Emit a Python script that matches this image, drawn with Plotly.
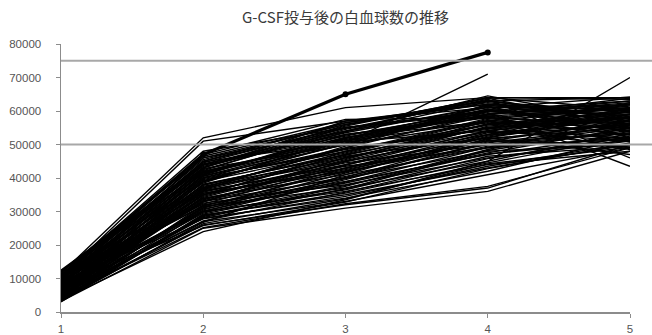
import plotly.graph_objects as go

days = [1, 2, 3, 4, 5]
title_text = "G-CSF投与後の白血球数の推移"
y_ticks = [0, 10000, 20000, 30000, 40000, 50000, 60000, 70000, 80000]
ref_levels = [75000, 50000]

# White blood cell counts per patient (one row per patient)
patients = [
    [11500, 52000, 61000, 64000, 64000],
    [10500, 51000, 57000, 62000, 60000],
    [12000, 46000, 56000, 63000, 58000],
    [9500, 45000, 55000, 60000, 62000],
    [8000, 44000, 54000, 64500, 57000],
    [11000, 43000, 57000, 61000, 55000],
    [7000, 42000, 52000, 59000, 63000],
    [9000, 41500, 50500, 71000, None],
    [6500, 41000, 53000, 58000, 61000],
    [10000, 40000, 51000, 57000, 53000],
    [8500, 39500, 49000, 62000, 59000],
    [5500, 39000, 48000, 56000, 60000],
    [7500, 38000, 47000, 55000, 49000],
    [9800, 38500, 52000, 60000, 56000],
    [6000, 37500, 46000, 54000, 62500],
    [4500, 37000, 45000, 53000, 58000],
    [8800, 36000, 44000, 52000, 47000],
    [7200, 36500, 49500, 58500, 54000],
    [5000, 35000, 43000, 51000, 57000],
    [11200, 35500, 42000, 50000, 55000],
    [6800, 34000, 41000, 49000, 52000],
    [4000, 34500, 45500, 57000, 61000],
    [9200, 33000, 40000, 48000, 50000],
    [5800, 33500, 44000, 55500, 59000],
    [3500, 32000, 39000, 47000, 53000],
    [8200, 32500, 38000, 46000, 51000],
    [6200, 31000, 43000, 53500, 56000],
    [4200, 31500, 37000, 45000, 54000],
    [7800, 30000, 36000, 44000, 48000],
    [5200, 30500, 41500, 52500, 60000],
    [3000, 29000, 35000, 43000, 50000],
    [6600, 29500, 39500, 50500, 55500],
    [4800, 28000, 34000, 42000, 52000],
    [3800, 28500, 37500, 48500, 57500],
    [5500, 27000, 33000, 41000, 49000],
    [4400, 26000, 32000, 37000, 50000],
    [3200, 25000, 31000, 36000, 48000],
    [3600, 24000, 33500, 45000, 70000],
    [7000, 46500, 56500, 63000, 64000],
    [10800, 44500, 55500, 64000, 63500],
    [12500, 43500, 53500, 61500, 52000],
    [9600, 42500, 54500, 63500, 46000],
    [8300, 41800, 51500, 59500, 43500],
    [6900, 40500, 50000, 56500, 48500],
    [5900, 39800, 48500, 54500, 62000],
    [10300, 45500, 56000, 62500, 57500],
    [7400, 37800, 47500, 57500, 61500],
    [8700, 36800, 46500, 52000, 58500],
    [4600, 35800, 44500, 50000, 53500],
    [11800, 43800, 52500, 60500, 54500],
    [6300, 33800, 42500, 51500, 56500],
    [9300, 31800, 40500, 49500, 51500],
    [5300, 30800, 38500, 47500, 55000],
    [7600, 29800, 36500, 46500, 49500],
    [4100, 28800, 35500, 44500, 52500],
    [8900, 27800, 34500, 43500, 50500],
    [6700, 40800, 53800, 62800, 59500],
    [5700, 38800, 51800, 61200, 60500],
    [9900, 42200, 55200, 59000, 62500],
    [7100, 34800, 48000, 56000, 58000],
    [3300, 26800, 41000, 53000, 61000],
    [10200, 47000, 57500, 58000, 56000],
    [8100, 44800, 50800, 54000, 51000],
    [6400, 32800, 46200, 55000, 57000],
    [4900, 36200, 43500, 49000, 54200],
    [11000, 48000, 55000, 60000, 59000],
    [9400, 46000, 54000, 64000, 60500],
    [8600, 45000, 56500, 62000, 58500],
    [7900, 43000, 55800, 63800, 55500],
    [12200, 44200, 53000, 58500, 61000],
    [6100, 42800, 49800, 61800, 56800],
    [10600, 41200, 52800, 60200, 63000],
    [5400, 40200, 47800, 57800, 52800],
    [8400, 39200, 50200, 59800, 57800],
    [4300, 38200, 46800, 55800, 59800],
    [9700, 37200, 48800, 54800, 51800],
    [6500, 36400, 45800, 56200, 62200],
    [3900, 35400, 42800, 52800, 55800],
    [7300, 34200, 44800, 53800, 60800],
    [5100, 33200, 41800, 51200, 49800],
    [10900, 32200, 43800, 54200, 58200],
    [4700, 31200, 39800, 50800, 53200],
    [8000, 30200, 38800, 49200, 56200],
    [3400, 29200, 37800, 47200, 51200],
    [6000, 28200, 36800, 48200, 54800],
    [5600, 27200, 35800, 45800, 52200],
    [3700, 26400, 33800, 44200, 49200],
    [7700, 25800, 32800, 42800, 50200],
    [4500, 25200, 32300, 37500, 49000],
    [9100, 40600, 51200, 58800, 63800],
    [11400, 43200, 54000, 61000, 64200],
    [6800, 39000, 50400, 60600, 53800],
    [5000, 37000, 49000, 59200, 61800],
    [8200, 35000, 47200, 57200, 54800],
    [7000, 33000, 45200, 55200, 57800],
    [9500, 31600, 42200, 52200, 59200],
    [4000, 30000, 40200, 51800, 55200],
    [6200, 41600, 52200, 56800, 50800],
    [10100, 44000, 54800, 63200, 56200],
    [12000, 42000, 51000, 59800, 60200],
]

highlight = [10500, 47000, 65000, 77500, None]

fig = go.Figure()
for row in patients:
    fig.add_trace(go.Scatter(
        x=days, y=row, mode="lines",
        line=dict(color="black", width=1.4),
        showlegend=False, hoverinfo="skip",
    ))

fig.add_trace(go.Scatter(
    x=days, y=highlight, mode="lines+markers",
    line=dict(color="black", width=3.2),
    marker=dict(color="black", size=6),
    showlegend=False, hoverinfo="skip",
))

for lv in ref_levels:
    fig.add_shape(type="line", xref="paper", yref="y",
                  x0=0, x1=1.06, y0=lv, y1=lv,
                  line=dict(color="#a8a8a8", width=2), layer="above")

fig.update_layout(
    width=652, height=335,
    margin=dict(l=61, r=22, t=44, b=23, autoexpand=False),
    paper_bgcolor="white", plot_bgcolor="white",
    hovermode=False,
    title=dict(text=title_text, x=0.5, xref="paper", y=1 - 18 / 335, yref="container",
               xanchor="center", yanchor="middle",
               font=dict(family="Noto Sans CJK JP", size=15, color="#3a3a3a")),
    font=dict(family="Liberation Sans", size=11.5, color="#555"),
)
fig.update_xaxes(
    range=[1, 5], tickvals=days, ticktext=[str(d) for d in days], automargin=False,
    showgrid=False, zeroline=False, showline=True, linecolor="#8c8c8c", linewidth=1.5,
    ticks="outside", ticklen=4, tickcolor="#8c8c8c", ticklabelstandoff=2,
)
fig.update_yaxes(
    range=[0, 80000], tickvals=y_ticks, ticktext=[str(v) for v in y_ticks], automargin=False,
    showgrid=False, zeroline=False, showline=True, linecolor="#8c8c8c", linewidth=1.5,
    ticks="outside", ticklen=4, tickcolor="#8c8c8c", ticklabelstandoff=12,
)

fig.write_html("out.html",
               config={"displayModeBar": False, "staticPlot": True},
               post_script="document.body.style.margin='0';document.body.style.overflow='hidden';")
